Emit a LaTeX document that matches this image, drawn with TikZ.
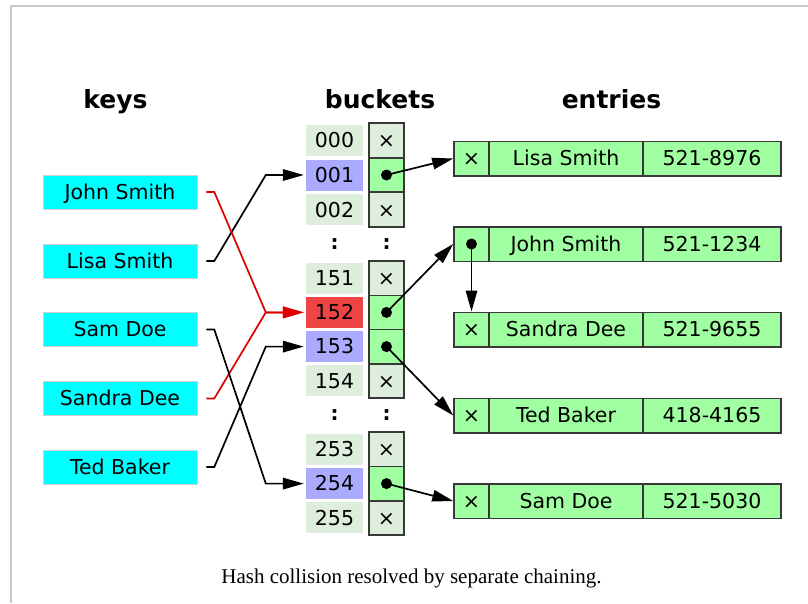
\documentclass[tikz,border=0pt]{standalone}
\usepackage{fontspec}
\setmainfont{DejaVu Sans}
\newfontfamily\capfont{Liberation Serif}
\usetikzlibrary{arrows.meta,calc}
\definecolor{idxgreen}{HTML}{DDEEDD}
\definecolor{lav}{HTML}{AAAAFF}
\definecolor{hotred}{HTML}{EE4444}
\definecolor{ptrgreen}{HTML}{A0FFA0}
\definecolor{bordergray}{HTML}{383838}
\definecolor{keycyan}{HTML}{00FFFF}
\definecolor{linered}{HTML}{DD0000}
\definecolor{framegray}{HTML}{C8C8C8}
\begin{document}
\begin{tikzpicture}[x=1pt,y=-1pt,
  txt/.style={inner sep=0pt, text height=14.6pt, text depth=0pt, font=\fontsize{20.5}{24}\selectfont},
  keybox/.style={txt, draw=black!18, line width=0.6pt, fill=keycyan, minimum width=154pt, minimum height=34pt},
  idx/.style={txt, fill=idxgreen, minimum width=57pt, minimum height=31pt},
  ptr/.style={txt, draw=bordergray, line width=1.5pt, fill=idxgreen, minimum width=35pt, minimum height=34.3pt},
  ptrfull/.style={ptr, fill=ptrgreen},
  ent/.style={txt, draw=bordergray, line width=1.5pt, fill=ptrgreen, minimum height=34.5pt},
  entx/.style={ent, minimum width=35pt},
  entn/.style={ent, minimum width=154pt},
  entp/.style={ent, minimum width=138pt},
  header/.style={inner sep=0pt, anchor=base, font=\bfseries\fontsize{25}{28}\selectfont},
  colon/.style={inner sep=0pt, font=\bfseries\fontsize{20}{24}\selectfont},
  tip/.style={-{Triangle[length=21pt,width=11.5pt]}},
  blackline/.style={tip, draw=black, line width=1.7pt},
  redline/.style={tip, draw=linered, line width=1.7pt},
  dotc/.style={fill=black}
]
\useasboundingbox (0,0) rectangle (808,603);
\draw[framegray, line width=1.5pt] (808,6) -- (11,6) -- (11,603);

% headers
\node[header] (hkeys) at (115.5,108) {keys};
\node[header] (hbuckets) at (380,108) {buckets};
\node[header] (hentries) at (611.5,108) {entries};

% keys
\node[keybox] (kJohn) at (120,192) {John Smith};
\node[keybox] (kLisa) at (120,261) {Lisa Smith};
\node[keybox] (kSam) at (120,329.5) {Sam Doe};
\node[keybox] (kSandra) at (120,398.5) {Sandra Dee};
\node[keybox] (kTed) at (120,467) {Ted Baker};

% bucket indices
\node[idx] (b000) at (334.5,140.3) {000};
\node[idx, fill=lav] (b001) at (334.5,175) {001};
\node[idx] (b002) at (334.5,209.7) {002};
\node[idx] (b151) at (334.5,278.2) {151};
\node[idx, fill=hotred] (b152) at (334.5,312.4) {152};
\node[idx, fill=lav] (b153) at (334.5,346.6) {153};
\node[idx] (b154) at (334.5,380.9) {154};
\node[idx] (b253) at (334.5,449.3) {253};
\node[idx, fill=lav] (b254) at (334.5,483.6) {254};
\node[idx] (b255) at (334.5,517.9) {255};

% pointer cells
\node[ptr] (p000) at (386.5,140.3) {×};
\node[ptrfull] (p001) at (386.5,175) {};
\node[ptr] (p002) at (386.5,209.7) {×};
\node[ptr] (p151) at (386.5,278.2) {×};
\node[ptrfull] (p152) at (386.5,312.4) {};
\node[ptrfull] (p153) at (386.5,346.6) {};
\node[ptr] (p154) at (386.5,380.9) {×};
\node[ptr] (p253) at (386.5,449.3) {×};
\node[ptrfull] (p254) at (386.5,483.6) {};
\node[ptr] (p255) at (386.5,517.9) {×};

% colons
\node[colon] (c1a) at (334.5,244) {:};
\node[colon] (c1b) at (386.5,244) {:};
\node[colon] (c2a) at (334.5,415.5) {:};
\node[colon] (c2b) at (386.5,415.5) {:};

% entries
\node[entx] (e1x) at (471.5,158.5) {×};
\node[entn] (e1n) at (566,158.5) {Lisa Smith};
\node[entp] (e1p) at (712,158.5) {521-8976};
\node[entx] (e2x) at (471.5,244) {};
\node[entn] (e2n) at (566,244) {John Smith};
\node[entp] (e2p) at (712,244) {521-1234};
\node[entx] (e3x) at (471.5,329.5) {×};
\node[entn] (e3n) at (566,329.5) {Sandra Dee};
\node[entp] (e3p) at (712,329.5) {521-9655};
\node[entx] (e4x) at (471.5,415.5) {×};
\node[entn] (e4n) at (566,415.5) {Ted Baker};
\node[entp] (e4p) at (712,415.5) {418-4165};
\node[entx] (e5x) at (471.5,501) {×};
\node[entn] (e5n) at (566,501) {Sam Doe};
\node[entp] (e5p) at (712,501) {521-5030};

% key connectors
\draw[blackline, shorten >=2pt] ([xshift=9pt]kLisa.east) -- ++(8,0) -- ($(b001.west)+(-40,0)$) -- (b001.west);
\draw[redline, shorten >=2pt] ([xshift=9pt]kJohn.east) -- ++(8,0) -- ($(b152.west)+(-40,0)$) -- (b152.west);
\draw[redline, shorten >=2pt] ([xshift=9pt]kSandra.east) -- ++(8,0) -- ($(b152.west)+(-40,0)$) -- (b152.west);
\draw[blackline, shorten >=2pt] ([xshift=9pt]kTed.east) -- ++(8,0) -- ($(b153.west)+(-40,0)$) -- (b153.west);
\draw[blackline, shorten >=2pt] ([xshift=9pt]kSam.east) -- ++(8,0) -- ($(b254.west)+(-40,0)$) -- (b254.west);

% pointer connectors
\draw[blackline] (p001.center) -- (e1x.west);
\draw[blackline] (p152.center) -- (e2x.west);
\draw[blackline] (p153.center) -- (e4x.west);
\draw[blackline] (p254.center) -- (e5x.west);
\draw[blackline] (e2x.center) -- (e3x.north);

% dots
\fill[dotc] (p001.center) circle[radius=5.5pt];
\fill[dotc] (p152.center) circle[radius=5.5pt];
\fill[dotc] (p153.center) circle[radius=5.5pt];
\fill[dotc] (p254.center) circle[radius=5.5pt];
\fill[dotc] (e2x.center) circle[radius=5.5pt];

% caption
\node[inner sep=0pt, anchor=base, font=\capfont\fontsize{21}{24}\selectfont] (cap) at (411.5,583) {Hash collision resolved by separate chaining.};
\end{tikzpicture}
\end{document}
